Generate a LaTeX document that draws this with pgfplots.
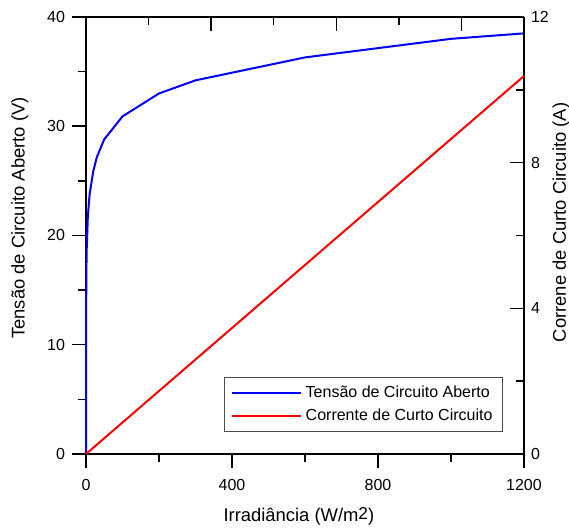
\documentclass[border=0pt]{standalone}
\usepackage{pgfplots}
\pgfplotsset{compat=1.18}
\usepackage{fontspec}
\setmainfont{Liberation Sans}

\begin{document}
\begin{tikzpicture}
\pgfplotsset{
  every axis/.append style={
    scale only axis, width=219pt, height=218.5pt,
    xmin=0, xmax=1200,
    font=\fontsize{8}{9.6}\selectfont,
    /pgf/number format/assume math mode=true,
    /pgf/number format/1000 sep={},
    axis line style={line width=0.75pt},
    major tick length=7pt, minor tick length=4pt,
    tick style={black, line width=0.75pt},
    label style={font=\fontsize{9.2}{11}\selectfont},
    clip=false,
  }
}
% eixo principal: Voc
\begin{axis}[
  axis x line*=bottom, axis y line*=left,
  tick align=outside,
  ymin=0, ymax=40,
  xtick={0,400,800,1200}, minor xtick={200,600,1000},
  ytick={0,10,20,30,40}, minor ytick={5,15,25,35},
  xticklabel style={yshift=-2pt},
  xlabel={Irradiância (W/m\raisebox{0.9pt}{\fontsize{8.6}{9}\selectfont 2})},
  ylabel={Tensão de Circuito Aberto (V)},
  xlabel style={at={(axis description cs:0.486,-0.142)}, anchor=center},
  ylabel style={at={(axis description cs:-0.151,0.54)}, anchor=center},
  legend cell align=left,
  legend style={at={(axis description cs:0.952,0.05)}, anchor=south east,
    draw=black!70, line width=0.5pt, font=\fontsize{8}{9.6}\selectfont,
    row sep=0.5pt, inner xsep=3pt, inner ysep=2pt},
  legend image code/.code={\draw[#1] (0pt,0pt) -- (34.5pt,0pt);},
]
\addplot[blue, line width=1pt] coordinates {
 (0,0) (0.3,12) (1,16.7) (2,18.8) (5,21.7) (10,23.8) (20,25.9) (30,27.2)
 (50,28.8) (100,30.9) (200,33.0) (300,34.2) (600,36.3) (1000,38.0) (1200,38.5)
};
\addlegendentry{Tensão de Circuito Aberto}
\addlegendimage{red, line width=1pt}
\addlegendentry{Corrente de Curto Circuito}
\end{axis}
% eixo secundario: Isc
\begin{axis}[
  axis x line*=top, axis y line*=right,
  tick align=inside,
  ymin=0, ymax=12,
  xtick={0,342.857,685.714,1028.571}, minor xtick={171.429,514.286,857.143,1200},
  xticklabels={},
  ytick={0,4,8,12}, minor ytick={2,6,10},
  ylabel={Correne de Curto Circuito (A)},
  ylabel style={at={(axis description cs:1.0845,0.53)}, anchor=center},
]
\addplot[red, line width=1pt] coordinates {(0,0) (1200,10.38)};
\end{axis}
\pgfresetboundingbox
\path[use as bounding box] (-43pt,-37pt) rectangle (241.5pt,227pt);
\end{tikzpicture}
\end{document}
